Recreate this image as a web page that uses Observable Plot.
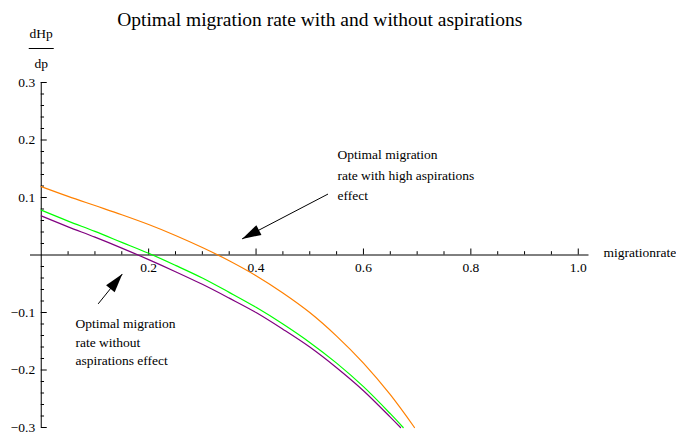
<!DOCTYPE html>
<html>
<head>
<meta charset="utf-8">
<script src="https://cdn.jsdelivr.net/npm/d3@7"></script>
<script src="https://cdn.jsdelivr.net/npm/@observablehq/plot@0.6"></script>
<style>
  html, body { margin: 0; padding: 0; background: #fff; }
  #chart svg { display: block; }
  #chart svg text { font-family: 'Liberation Serif', 'DejaVu Serif', serif; }
</style>
</head>
<body>
<div id="chart"></div>
<script>
// ---- data ----
const title = "Optimal migration rate with and without aspirations";
const xLabel = "migrationrate";
const yLabelTop = "dHp";
const yLabelBottom = "dp";

const orangeX = [0, 0.05, 0.1, 0.15, 0.2, 0.25, 0.3, 0.35, 0.4, 0.45, 0.5, 0.55, 0.6, 0.65, 0.695];
const orangeY = [0.119, 0.102, 0.086, 0.070, 0.053, 0.034, 0.013, -0.010, -0.036, -0.066, -0.100, -0.141, -0.188, -0.243, -0.300];

const greenX = [0, 0.05, 0.1, 0.15, 0.2, 0.25, 0.3, 0.35, 0.4, 0.45, 0.5, 0.55, 0.6, 0.65, 0.674];
const greenY = [0.078, 0.059, 0.041, 0.022, 0.003, -0.018, -0.040, -0.065, -0.091, -0.120, -0.152, -0.188, -0.229, -0.276, -0.300];

const purpleX = [0, 0.05, 0.1, 0.15, 0.2, 0.25, 0.3, 0.35, 0.4, 0.45, 0.5, 0.55, 0.6, 0.65, 0.669];
const purpleY = [0.068, 0.049, 0.031, 0.012, -0.008, -0.029, -0.051, -0.075, -0.100, -0.129, -0.160, -0.196, -0.236, -0.282, -0.300];

const xTicks = [0.2, 0.4, 0.6, 0.8, 1.0];
const xTickLabels = ["0.2", "0.4", "0.6", "0.8", "1.0"];
const yTicks = [0.3, 0.2, 0.1, -0.1, -0.2, -0.3];
const yTickLabels = ["0.3", "0.2", "0.1", "\u22120.1", "\u22120.2", "\u22120.3"];

const noteHigh = "Optimal migration\nrate with high aspirations\neffect";
const noteWithout = "Optimal migration\nrate without\naspirations effect";
const arrows = [
  {x1: 0.534, y1: 0.106, x2: 0.374, y2: 0.028},
  {x1: 0.106, y1: -0.085, x2: 0.151, y2: -0.033}
];

// ---- layout ----
const W = 676, H = 439;
const mL = 30, mR = 87.5, mT = 82, mB = 12;
const xDom = [-0.02, 1.02], yDom = [-0.3, 0.3];
const pxX = (W - mL - mR) / (xDom[1] - xDom[0]);
const pxY = (H - mT - mB) / (yDom[1] - yDom[0]);

const toPoints = (xs, ys) => xs.map((x, i) => ({x, y: ys[i]}));

const xMinor = d3.range(1, 21).map(i => +(i * 0.05).toFixed(2));
const yMinor = d3.range(-15, 16).filter(i => i !== 0).map(i => +(i * 0.02).toFixed(2));
const majorLen = 6, minorLen = 3.3;
const isMajor = (ticks, d) => ticks.some(t => Math.abs(t - d) < 1e-9);

function arrowHead(color) {
  const m = d3.create("svg:marker")
    .attr("viewBox", "-20 -7 21 14")
    .attr("markerWidth", 21)
    .attr("markerHeight", 14)
    .attr("markerUnits", "userSpaceOnUse")
    .attr("refX", 0)
    .attr("refY", 0)
    .attr("orient", "auto")
    .attr("fill", color)
    .attr("stroke", "none");
  m.append("path").attr("d", "M0,0L-19,-5.5L-19,5.5Z");
  return m.node();
}

const serif = "Liberation Serif";

const chart = Plot.plot({
  width: W,
  height: H,
  marginLeft: mL,
  marginRight: mR,
  marginTop: mT,
  marginBottom: mB,
  x: {domain: xDom, axis: null},
  y: {domain: yDom, axis: null},
  style: {fontFamily: serif, fontSize: "13px", background: "#fff", color: "#000", overflow: "visible"},
  marks: [
    // axes lines
    Plot.ruleY([0], {stroke: "#000", strokeWidth: 1}),
    Plot.ruleX([0], {stroke: "#000", strokeWidth: 1}),
    // x ticks
    Plot.ruleX(xMinor, {x: d => d, y1: 0, y2: d => (isMajor(xTicks, d) ? majorLen : minorLen) / pxY, stroke: "#000", strokeWidth: 1}),
    // y ticks
    Plot.ruleY(yMinor, {y: d => d, x1: 0, x2: d => (isMajor(yTicks, d) ? majorLen : minorLen) / pxX, stroke: "#000", strokeWidth: 1}),
    // tick labels
    Plot.text(xTicks, {x: d => d, y: 0, text: (d, i) => xTickLabels[i], dy: 13, fontSize: 13.5, fontFamily: serif, fill: "#000"}),
    Plot.text(yTicks, {x: 0, y: d => d, text: (d, i) => yTickLabels[i], dx: -6, textAnchor: "end", fontSize: 13.5, fontFamily: serif, fill: "#000"}),
    // axis labels
    Plot.text([xLabel], {x: xDom[1], y: 0, text: d => d, dx: 14.5, dy: -2, textAnchor: "start", fontSize: 13.5, fontFamily: serif, fill: "#000"}),
    Plot.text([yLabelTop], {x: 0, y: yDom[1], text: d => d, dy: -49, fontSize: 13.5, fontFamily: serif, fill: "#000"}),
    Plot.text([yLabelBottom], {x: 0, y: yDom[1], text: d => d, dy: -19, fontSize: 13.5, fontFamily: serif, fill: "#000"}),
    Plot.link([0], {x1: -12.5 / pxX, x2: 12.5 / pxX, y1: yDom[1] + 34 / pxY, y2: yDom[1] + 34 / pxY, stroke: "#000", strokeWidth: 1}),
    // title
    Plot.text([title], {frameAnchor: "top", text: d => d, dx: 10, dy: -70, fontSize: 19.5, fontFamily: serif, fill: "#000"}),
    // curves
    Plot.line(toPoints(orangeX, orangeY), {x: "x", y: "y", stroke: "#ff8000", strokeWidth: 1.2, curve: "catmull-rom"}),
    Plot.line(toPoints(greenX, greenY), {x: "x", y: "y", stroke: "#00ff00", strokeWidth: 1.2, curve: "catmull-rom"}),
    Plot.line(toPoints(purpleX, purpleY), {x: "x", y: "y", stroke: "#800080", strokeWidth: 1.2, curve: "catmull-rom"}),
    // annotations
    Plot.text([noteHigh], {x: 0.5517, y: 0.192, text: d => d, textAnchor: "start", lineAnchor: "top", lineHeight: 1.52, fontSize: 13.5, fontFamily: serif, fill: "#000"}),
    Plot.text([noteWithout], {x: 0.0638, y: -0.105, text: d => d, textAnchor: "start", lineAnchor: "top", lineHeight: 1.36, fontSize: 13.5, fontFamily: serif, fill: "#000"}),
    Plot.link(arrows, {x1: "x1", y1: "y1", x2: "x2", y2: "y2", stroke: "#000", strokeWidth: 1, markerEnd: arrowHead})
  ]
});

document.getElementById("chart").appendChild(chart);
</script>
</body>
</html>
